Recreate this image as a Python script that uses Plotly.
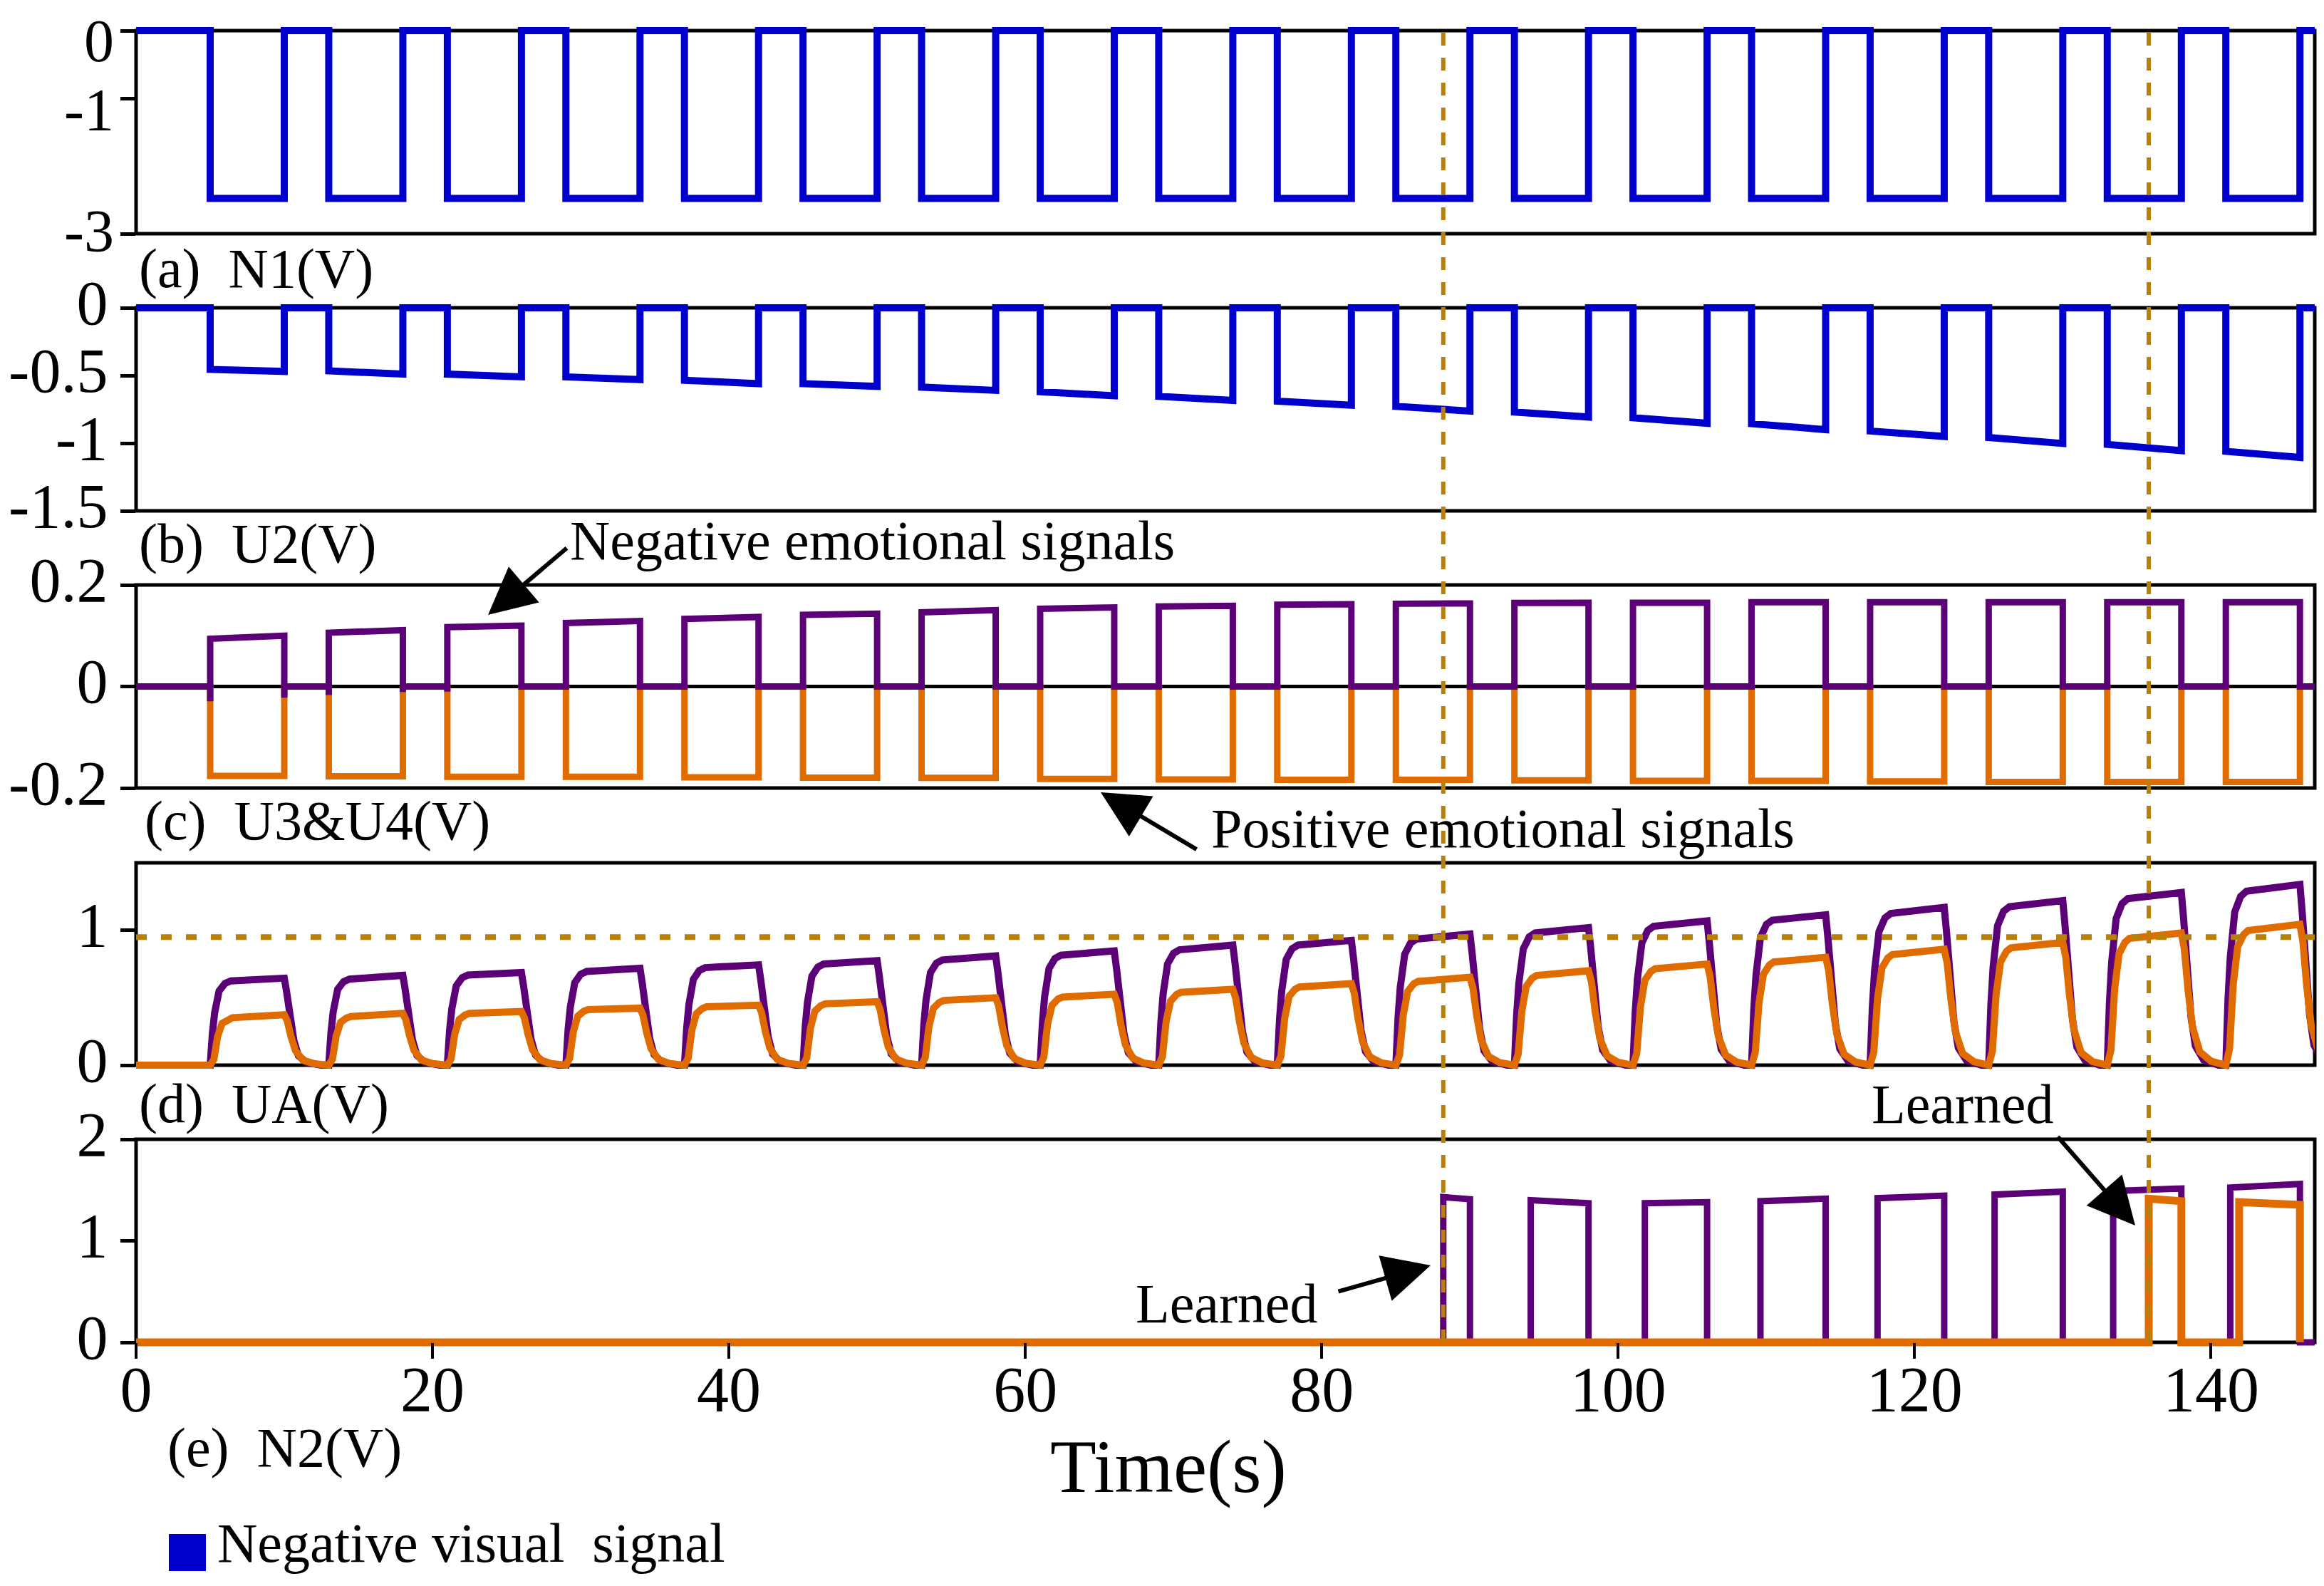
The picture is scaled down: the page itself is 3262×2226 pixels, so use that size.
import plotly.graph_objects as go

W, H = 3262, 2226
FONT = "Liberation Serif"
BLUE = "#0000CC"
PURPLE = "#5C0078"
ORANGE = "#E06C00"
GOLD = "#B8800A"

# ---------------- data ----------------
T_MAX = 147
X_TICKS = [0, 20, 40, 60, 80, 100, 120, 140]
PULSE_ON = [5, 13, 21, 29, 37, 45, 53, 61, 69, 77, 85, 93, 101, 109, 117, 125, 133, 141]
PULSE_OFF = [10, 18, 26, 34, 42, 50, 58, 66, 74, 82, 90, 98, 106, 114, 122, 130, 138, 146]

# (a) N1
N1_LOW = -2.48

# (b) U2
U2_START = [-0.455, -0.466, -0.49, -0.51, -0.535, -0.56, -0.586, -0.62, -0.654,
            -0.69, -0.728, -0.77, -0.812, -0.856, -0.91, -0.958, -1.009, -1.06]
U2_END = [-0.47, -0.49, -0.51, -0.53, -0.56, -0.58, -0.61, -0.65, -0.684,
          -0.72, -0.763, -0.807, -0.853, -0.90, -0.95, -1.002, -1.055, -1.105]

# (c) U3 (purple, negative emotional) & U4 (orange, positive emotional)
U3_START = [0.094, 0.106, 0.117, 0.125, 0.133, 0.141, 0.146, 0.153, 0.1575,
            0.161, 0.163, 0.1645, 0.165, 0.166, 0.166, 0.166, 0.166, 0.166]
U3_END = [0.100, 0.111, 0.120, 0.129, 0.137, 0.1435, 0.1505, 0.1557, 0.159,
          0.162, 0.1636, 0.165, 0.165, 0.166, 0.166, 0.166, 0.166, 0.166]
U3_DIP_ON = [-0.029, -0.017, -0.010, 0, 0, 0, 0, 0, 0, 0, 0, 0, 0, 0, 0, 0, 0, 0]
U3_DIP_OFF = [-0.022, -0.011, 0, 0, 0, 0, 0, 0, 0, 0, 0, 0, 0, 0, 0, 0, 0, 0]
U4_LEVEL = [-0.176, -0.177, -0.178, -0.178, -0.179, -0.1795, -0.18, -0.182, -0.183,
            -0.184, -0.184, -0.185, -0.186, -0.186, -0.187, -0.188, -0.188, -0.188]

# (d) UA  (value after the fast rise, value at pulse end)
UAP_KNEE = [0.625, 0.638, 0.668, 0.695, 0.723, 0.75, 0.78, 0.815, 0.855,
            0.89, 0.935, 0.98, 1.03, 1.075, 1.125, 1.175, 1.235, 1.29]
UAP_END = [0.645, 0.666, 0.687, 0.718, 0.744, 0.775, 0.81, 0.847, 0.89,
           0.925, 0.972, 1.02, 1.07, 1.115, 1.17, 1.22, 1.28, 1.34]
UAO_KNEE = [0.352, 0.361, 0.384, 0.412, 0.433, 0.455, 0.48, 0.505, 0.54,
            0.58, 0.621, 0.665, 0.715, 0.765, 0.82, 0.87, 0.94, 0.998]
UAO_END = [0.374, 0.384, 0.398, 0.423, 0.445, 0.47, 0.50, 0.526, 0.563,
           0.605, 0.652, 0.70, 0.75, 0.80, 0.86, 0.91, 0.98, 1.044]
# read shape of the rise / decay (time after edge, fraction of level)
RISE_DT_P = [0, 0.15, 0.3, 0.6, 1.0, 1.4]
RISE_FR_P = [0, 0.38, 0.62, 0.88, 0.97, 1.0]
RISE_DT_O = [0, 0.25, 0.5, 0.8, 1.2, 1.5]
RISE_FR_O = [0, 0.12, 0.6, 0.88, 0.97, 1.0]
DECAY_DT_P = [0, 0.15, 0.35, 0.65, 0.95, 1.5, 2.5]
DECAY_FR_P = [1, 0.85, 0.6, 0.28, 0.11, 0.03, 0]
DECAY_DT_O = [0, 0.2, 0.45, 0.75, 1.25, 2.0, 3.0]
DECAY_FR_O = [1, 0.88, 0.57, 0.29, 0.1, 0.03, 0]
THRESHOLD = 0.95

# (e) N2
N2P_ON = [88.2, 94.1, 101.8, 109.6, 117.5, 125.4, 133.4, 141.3]
N2P_OFF = [90, 98, 106, 114, 122, 130, 138, 146]
N2P_START = [1.43, 1.40, 1.37, 1.39, 1.42, 1.455, 1.49, 1.525]
N2P_END = [1.41, 1.37, 1.38, 1.415, 1.445, 1.485, 1.515, 1.56]
N2O_ON = [135.8, 141.9]
N2O_OFF = [138.0, 146.0]
N2O_START = [1.415, 1.38]
N2O_END = [1.39, 1.355]

LEARNED_T = [88.2, 135.8]

# panel layout: top px, bottom px, y range, tick values, tick texts
PANELS = [
    (35, 320, -3, 0, [0, -1, -3], ["0", "-1", "-3"]),
    (424, 709, -1.5, 0, [0, -0.5, -1, -1.5], ["0", "-0.5", "-1", "-1.5"]),
    (813, 1098, -0.2, 0.2, [0.2, 0, -0.2], ["0.2", "0", "-0.2"]),
    (1203, 1487, 0, 1.5, [0, 1], ["0", "1"]),
    (1591, 1876, 0, 2, [0, 1, 2], ["0", "1", "2"]),
]
# panel (a) tick texts are placed as texts (the top one sits below its tick, as drawn)
A_LABEL_PX = [1, 146, 316]
A_LABEL_ANCHOR = ["top", "middle", "middle"]
PANEL_LABELS = ["(a)\u00a0\u00a0N1(V)", "(b)\u00a0\u00a0U2(V)", "(c)\u00a0\u00a0U3&amp;U4(V)",
                "(d)\u00a0\u00a0UA(V)", "(e)\u00a0\u00a0N2(V)"]

X_LEFT_PX, X_RIGHT_PX = 183, 3241
PAD = 0.04
TX, TY = -10, -8   # text anchor correction (px)

# ---------------- build series ----------------
def square(levels_start, levels_end, on, off, t_end=None):
    xs, ys = [0], [0]
    for a, b, s, e in zip(on, off, levels_start, levels_end):
        xs += [a, a, b, b]
        ys += [0, s, e, 0]
    xs.append(t_end if t_end is not None else T_MAX)
    ys.append(0)
    return xs, ys

def ua_curve(knee, end, rdt, rfr, ddt, dfr):
    xs, ys = [0], [0]
    for a, b, k, e in zip(PULSE_ON, PULSE_OFF, knee, end):
        for dt, fr in zip(rdt, rfr):
            xs.append(a + dt); ys.append(fr * k)
        for dt, fr in zip(ddt, dfr):
            xs.append(b + dt); ys.append(fr * e)
    return xs, ys

fig = go.Figure()

# (a)
xa, ya = square([N1_LOW] * len(PULSE_ON), [N1_LOW] * len(PULSE_ON), PULSE_ON, PULSE_OFF)
fig.add_trace(go.Scatter(x=xa, y=ya, mode="lines", line=dict(color=BLUE, width=10),
                         xaxis="x", yaxis="y", name="N1"))
# (b)
xb, yb = square(U2_START, U2_END, PULSE_ON, PULSE_OFF)
fig.add_trace(go.Scatter(x=xb, y=yb, mode="lines", line=dict(color=BLUE, width=10),
                         xaxis="x2", yaxis="y2", name="U2"))
# (c)
xc4, yc4 = square(U4_LEVEL, U4_LEVEL, PULSE_ON, PULSE_OFF)
fig.add_trace(go.Scatter(x=xc4, y=yc4, mode="lines", line=dict(color=ORANGE, width=9),
                         xaxis="x3", yaxis="y3", name="U4"))
xc3, yc3 = [0], [0]
for a, b, s, e, d1, d2 in zip(PULSE_ON, PULSE_OFF, U3_START, U3_END, U3_DIP_ON, U3_DIP_OFF):
    xc3 += [a, a, a, b, b, b]
    yc3 += [0, d1, s, e, d2, 0]
xc3.append(T_MAX); yc3.append(0)
fig.add_trace(go.Scatter(x=xc3, y=yc3, mode="lines", line=dict(color=PURPLE, width=9),
                         xaxis="x3", yaxis="y3", name="U3"))
# (d)
xdp, ydp = ua_curve(UAP_KNEE, UAP_END, RISE_DT_P, RISE_FR_P, DECAY_DT_P, DECAY_FR_P)
fig.add_trace(go.Scatter(x=xdp, y=ydp, mode="lines", line=dict(color=PURPLE, width=10),
                         xaxis="x4", yaxis="y4", name="UA neg"))
xdo, ydo = ua_curve(UAO_KNEE, UAO_END, RISE_DT_O, RISE_FR_O, DECAY_DT_O, DECAY_FR_O)
fig.add_trace(go.Scatter(x=xdo, y=ydo, mode="lines", line=dict(color=ORANGE, width=10),
                         xaxis="x4", yaxis="y4", name="UA pos"))
# (e)
xep, yep = square(N2P_START, N2P_END, N2P_ON, N2P_OFF)
fig.add_trace(go.Scatter(x=xep, y=yep, mode="lines", line=dict(color=PURPLE, width=9),
                         xaxis="x5", yaxis="y5", name="N2 neg"))
xeo, yeo = square(N2O_START, N2O_END, N2O_ON, N2O_OFF, t_end=146.0)
fig.add_trace(go.Scatter(x=xeo, y=yeo, mode="lines", line=dict(color=ORANGE, width=11),
                         xaxis="x5", yaxis="y5", name="N2 pos"))

# ---------------- axes ----------------
layout = {}
shapes = []
xdom = [X_LEFT_PX / W, X_RIGHT_PX / W]
for i, (top, bot, lo, hi, tv, tt) in enumerate(PANELS, start=1):
    sfx = "" if i == 1 else str(i)
    h = bot - top
    span = hi - lo
    ydom = [1 - (bot + PAD * h) / H, 1 - (top - PAD * h) / H]
    xa_ = dict(domain=xdom, range=[0, T_MAX], showgrid=False, zeroline=False,
               showline=False, anchor="y" + sfx, automargin=False)
    if i < 5:
        xa_.update(showticklabels=False, ticks="")
    else:
        xa_.update(anchor="free", position=1 - bot / H, ticks="outside", ticklen=22,
                   tickwidth=4, tickcolor="black", tickvals=X_TICKS,
                   ticktext=[str(v) for v in X_TICKS], ticklabelstandoff=-34,
                   ticklabeloverflow="allow",
                   tickfont=dict(family=FONT, size=90, color="black"))
    layout["xaxis" + sfx] = xa_
    layout["yaxis" + sfx] = dict(domain=ydom, range=[lo - PAD * span, hi + PAD * span],
                                 anchor="x" + sfx, showgrid=False, zeroline=False,
                                 showline=False, ticks="outside", ticklen=21, tickwidth=5,
                                 tickcolor="black", tickvals=tv, ticktext=tt,
                                 showticklabels=(i != 1),
                                 automargin=False, ticklabeloverflow="allow",
                                 ticklabelshift=-8,
                                 tickfont=dict(family=FONT, size=88, color="black"))
    shapes.append(dict(type="rect", xref="x" + sfx + " domain", x0=0, x1=1,
                       yref="y" + sfx, y0=lo, y1=hi, line=dict(color="black", width=5),
                       layer="below"))

# zero line in (c)
shapes.append(dict(type="line", xref="x3 domain", x0=0, x1=1, yref="y3", y0=0, y1=0,
                   line=dict(color="black", width=5), layer="below"))
# threshold in (d)
shapes.append(dict(type="line", xref="x4 domain", x0=0, x1=1, yref="y4",
                   y0=THRESHOLD, y1=THRESHOLD,
                   line=dict(color=GOLD, width=8, dash="15px,20px"), layer="above"))
# learned moments
for t in LEARNED_T:
    shapes.append(dict(type="line", xref="x5", x0=t, x1=t, yref="paper",
                       y0=1 - 1876 / H, y1=1 - 33 / H,
                       line=dict(color=GOLD, width=6, dash="18px,17px"), layer="above"))
# legend square
shapes.append(dict(type="rect", xref="paper", yref="paper", x0=229 / W, x1=281 / W,
                   y0=1 - 2197 / H, y1=1 - 2145 / H, fillcolor=BLUE,
                   line=dict(color=BLUE, width=0)))

annotations = []
for txt, py, anc in zip(PANELS[0][5], A_LABEL_PX, A_LABEL_ANCHOR):
    annotations.append(dict(text=txt, xref="paper", yref="paper", x=154 / W,
                            y=1 - py / H, xanchor="right", yanchor=anc,
                            showarrow=False, font=dict(family=FONT, size=84, color="black")))
LABEL_POS = [(195, 376), (195, 762), (203, 1151), (195, 1548), (235, 2031)]
for txt, (px, py) in zip(PANEL_LABELS, LABEL_POS):
    annotations.append(dict(text=txt, xref="paper", yref="paper", x=(px + TX) / W,
                            y=1 - (py + TY) / H,
                            xanchor="left", yanchor="middle", showarrow=False,
                            font=dict(family=FONT, size=78, color="black")))

TEXTS = [
    ("Negative emotional signals", 800, 759, 78),
    ("Positive emotional signals", 1700, 1162, 78),
    ("Learned", 1594, 1830, 78),
    ("Learned", 2627, 1549, 78),
    ("Negative visual\u00a0\u00a0signal", 305, 2165, 78),
]
for txt, px, py, fs in TEXTS:
    annotations.append(dict(text=txt, xref="paper", yref="paper", x=(px + TX) / W,
                            y=1 - (py + TY) / H,
                            xanchor="left", yanchor="middle", showarrow=False,
                            font=dict(family=FONT, size=fs, color="black")))
annotations.append(dict(text="Time(s)", xref="paper", yref="paper", x=1632 / W,
                        y=1 - 2050 / H, xanchor="center", yanchor="middle",
                        showarrow=False, font=dict(family=FONT, size=106, color="black")))

ARROWS = [  # tail px, tip px
    ((789, 760), (677, 855)),
    ((1673, 1185), (1537, 1104)),
    ((1869, 1805), (2000, 1768)),
    ((2879, 1586), (2989, 1712)),
]
for (tx, ty), (hx, hy) in ARROWS:
    annotations.append(dict(text="", xref="paper", yref="paper", x=hx / W, y=1 - hy / H,
                            ax=tx - hx, ay=ty - hy, axref="pixel", ayref="pixel",
                            showarrow=True, arrowhead=2, arrowsize=2.2, arrowwidth=6,
                            arrowcolor="black"))

layout.update(width=W, height=H, margin=dict(l=0, r=0, t=0, b=0, pad=0, autoexpand=False),
              plot_bgcolor="white", paper_bgcolor="white", showlegend=False,
              shapes=shapes, annotations=annotations,
              font=dict(family=FONT, color="black"))
fig.update_layout(**layout)
fig.write_html("out.html")
